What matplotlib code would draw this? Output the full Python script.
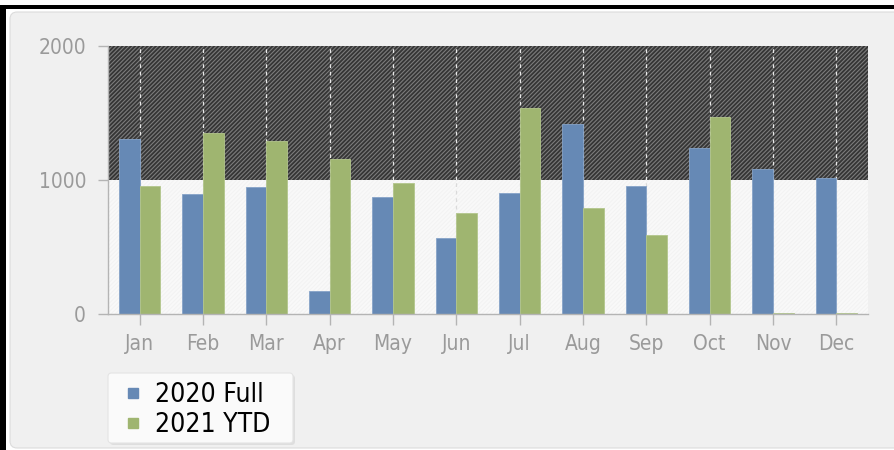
import matplotlib
matplotlib.use("Agg")
import matplotlib.pyplot as plt
from matplotlib.patches import FancyBboxPatch, Rectangle
from matplotlib.lines import Line2D
import numpy as np

months = ["Jan", "Feb", "Mar", "Apr", "May", "Jun", "Jul", "Aug", "Sep", "Oct", "Nov", "Dec"]
full_2020 = [1306, 900, 948, 176, 878, 569, 903, 1420, 955, 1241, 1084, 1015]
ytd_2021 = [955, 1353, 1291, 1161, 982, 756, 1540, 791, 594, 1475, 10, 10]
series_names = ["2020 Full", "2021 YTD"]
yticks = [0, 1000, 2000]

BLUE = "#6689b5"
GREEN = "#9fb570"

plt.rcParams["hatch.linewidth"] = 0.8
plt.rcParams["font.family"] = ["DejaVu Sans"]
plt.rcParams["font.stretch"] = "condensed"
W, H = 895, 450
fig = plt.figure(figsize=(W / 100, H / 100), dpi=100, facecolor="white")

# outer black frame (top and left)
fig.patches.append(Rectangle((0, (H - 9) / H), 1, 4 / H, transform=fig.transFigure,
                             facecolor="black", edgecolor="none", zorder=-10))
fig.patches.append(Rectangle((0, 0), 6 / W, (H - 5) / H, transform=fig.transFigure,
                             facecolor="black", edgecolor="none", zorder=-10))
# light gray panel
fig.patches.append(FancyBboxPatch((10 / W, 2 / H), (W + 20) / W, (H - 12 - 2) / H,
                                  boxstyle="round,pad=0,rounding_size=0.008",
                                  transform=fig.transFigure, facecolor="#f0f0f0",
                                  edgecolor="#dcdcdc", linewidth=0.8, zorder=-9,
                                  mutation_aspect=W / H))
# legend box (shadow + frame)
fig.patches.append(FancyBboxPatch(((108 + 2) / W, (H - 443 - 2) / H), 185 / W, 70 / H,
                                  boxstyle="round,pad=0,rounding_size=0.004",
                                  transform=fig.transFigure, facecolor="#dedede",
                                  edgecolor="none", zorder=-8, mutation_aspect=W / H))
fig.patches.append(FancyBboxPatch((108 / W, (H - 443) / H), 185 / W, 70 / H,
                                  boxstyle="round,pad=0,rounding_size=0.004",
                                  transform=fig.transFigure, facecolor="#fafafa",
                                  edgecolor="#e4e4e4", linewidth=0.8, zorder=-7,
                                  mutation_aspect=W / H))

ax = fig.add_axes([108 / W, (H - 314.3) / H, 760 / W, 268 / H])
ax.set_facecolor("#f9f9f9")
x = np.arange(len(months))
ax.set_xlim(-0.5, len(months) - 0.5)
ax.set_ylim(0, 2000)

# dark hatched upper band
ax.axhspan(1000, 2000, facecolor="#353535", edgecolor="#7c7c7c", hatch="////////",
           linewidth=0, zorder=0.5)
ax.axhspan(0, 1000, facecolor="#f9f9f9", edgecolor="#f3f3f3", hatch="////////",
           linewidth=0, zorder=0.4)

# dashed category lines
ax.vlines(x, 1000, 2000, colors="#e8e8e8", linestyles=(0, (3, 3)), linewidth=0.9, zorder=1)
ax.vlines(x, 0, 1000, colors="#dadada", linestyles=(0, (3, 3)), linewidth=0.9, zorder=1)

bw = 0.327
ax.bar(x - bw / 2, full_2020, width=bw, color=BLUE, edgecolor="#86a3c8", linewidth=0.6, zorder=2)
ax.bar(x + bw / 2, ytd_2021, width=bw, color=GREEN, edgecolor="#b3c68c", linewidth=0.6, zorder=2)

for s in ["top", "right"]:
    ax.spines[s].set_visible(False)
for s in ["left", "bottom"]:
    ax.spines[s].set_color("#b4b4b4")
    ax.spines[s].set_linewidth(1.0)
    ax.spines[s].set_zorder(3)

ax.set_yticks(yticks)
ax.set_yticklabels([str(v) for v in yticks])
ax.set_xticks(x)
ax.set_xticklabels(months)
ax.tick_params(axis="y", length=7.2, width=1, color="#b4b4b4", pad=8.6,
               labelsize=15, labelcolor="#9a9a9a")
ax.tick_params(axis="x", length=8, width=1, color="#b4b4b4", pad=6,
               labelsize=15, labelcolor="#9a9a9a")

handles = [Line2D([], [], marker="s", linestyle="none", markersize=6.5,
                  markerfacecolor=BLUE, markeredgecolor=BLUE),
           Line2D([], [], marker="s", linestyle="none", markersize=6.5,
                  markerfacecolor=GREEN, markeredgecolor=GREEN)]
leg = fig.legend(handles, series_names, loc="upper left",
                 bbox_to_anchor=(122 / W, (H - 382) / H), fontsize=19,
                 frameon=False, borderpad=0.0,
                 labelspacing=0.17, handlelength=0.8, handletextpad=0.45,
                 borderaxespad=0)

fig.savefig("out.png", dpi=100, facecolor="white")
